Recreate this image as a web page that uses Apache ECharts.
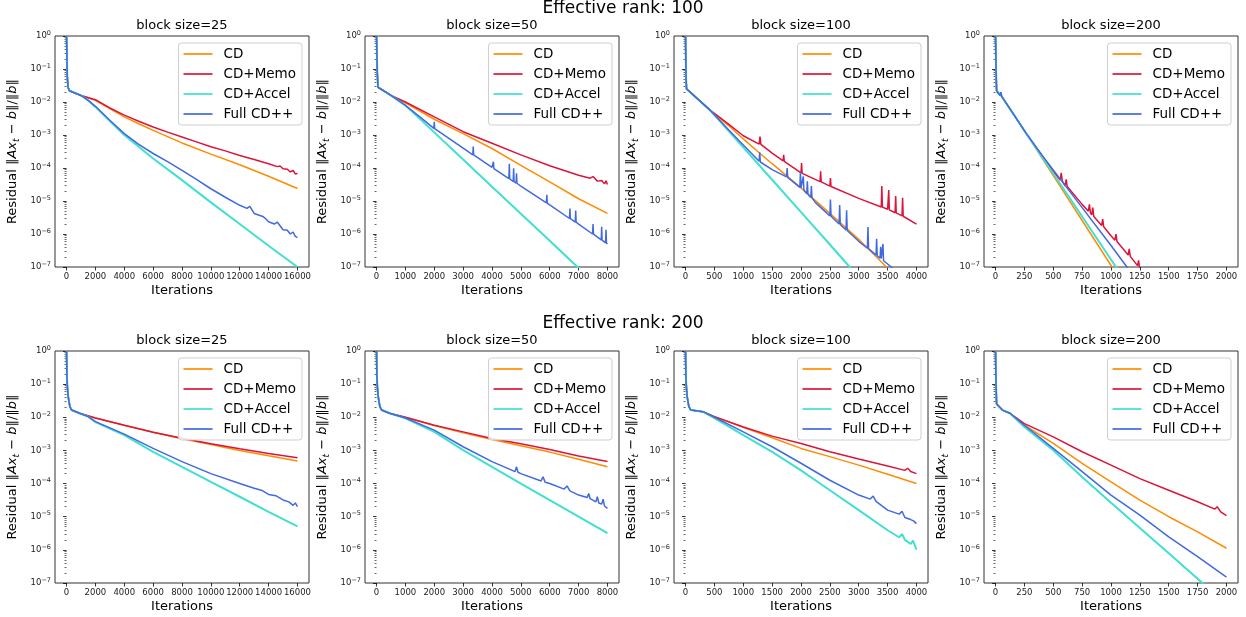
<!DOCTYPE html>
<html><head><meta charset="utf-8">
<script src="https://cdn.jsdelivr.net/npm/echarts@6/dist/echarts.min.js"></script>
<style>html,body{margin:0;padding:0;background:#fff}#c{width:1246px;height:617px}</style>
</head><body><div id="c"></div>
<script>
const seriesNames = ['CD', 'CD+Memo', 'CD+Accel', 'Full CD++'];
const seriesColors = ['#ff8c00', '#dc143c', '#40e0d0', '#4169e1'];
const rankTitles = ['Effective rank: 100', 'Effective rank: 200'];
const blockSizes = [25, 50, 100, 200];
const maxIter = [16000, 8000, 4000, 2000];
const xTicks = [
  [0, 2000, 4000, 6000, 8000, 10000, 12000, 14000, 16000],
  [0, 1000, 2000, 3000, 4000, 5000, 6000, 7000, 8000],
  [0, 500, 1000, 1500, 2000, 2500, 3000, 3500, 4000],
  [0, 250, 500, 750, 1000, 1250, 1500, 1750, 2000]
];

// ---------- Effective rank 100 ----------
const r100_b25_cd = [[0,1],[50,0.06],[100,0.028],[200,0.022],[1000,0.0158],[2000,0.0112],[3000,0.0063],[4000,0.00355],[5000,0.0022],[6000,0.00138],[8000,5.75e-4],[10000,2.63e-4],[12000,1.26e-4],[14000,5.6e-5],[16000,2.4e-5]];
const r100_b25_memo = [[0,1],[50,0.06],[100,0.028],[200,0.022],[1000,0.0158],[2000,0.0117],[3000,0.0066],[4000,0.004],[5000,0.0026],[6000,0.00174],[7000,0.00122],[8000,8.7e-4],[9000,6.2e-4],[10000,4.4e-4],[11000,3.3e-4],[12000,2.4e-4],[13000,1.8e-4],[14000,1.35e-4],[14600,1.1e-4],[14800,1.15e-4],[15000,9.5e-5],[15300,9.2e-5],[15500,7.6e-5],[15700,8.4e-5],[15850,6.6e-5],[16000,6.8e-5]];
const r100_b25_accel = [[0,1],[50,0.06],[100,0.028],[200,0.022],[1000,0.0158],[1500,0.0112],[2000,0.0071],[3000,0.00263],[4000,0.001],[6000,1.95e-4],[8000,4.3e-5],[10000,9.1e-6],[12000,2.0e-6],[14000,4.4e-7],[16000,1.0e-7]];
const r100_b25_full = [[0,1],[50,0.06],[100,0.028],[200,0.022],[1000,0.0158],[1500,0.0112],[2000,0.0074],[3000,0.0028],[4000,0.0011],[5000,5.2e-4],[6000,2.75e-4],[7000,1.55e-4],[8000,8.5e-5],[9000,4.5e-5],[10000,2.35e-5],[11000,1.3e-5],[12000,7.4e-6],[12500,6.0e-6],[12700,6.9e-6],[13000,4.2e-6],[13600,3.4e-6],[13800,2.9e-6],[14000,2.35e-6],[14400,2.0e-6],[14600,2.3e-6],[15000,1.35e-6],[15300,1.3e-6],[15500,1.0e-6],[15700,1.15e-6],[15850,8.5e-7],[16000,7.8e-7]];

const r100_b50_cd = [[0,1],[25,0.08],[50,0.028],[100,0.025],[500,0.0158],[1000,0.0095],[2000,0.003],[3000,0.0011],[4000,3.9e-4],[5000,1.2e-4],[6000,3.8e-5],[7000,1.17e-5],[8000,4.2e-6]];
const r100_b50_memo = [[0,1],[25,0.08],[50,0.028],[100,0.025],[500,0.0158],[1000,0.01],[2000,0.00355],[3000,0.00126],[4000,5.6e-4],[5000,2.5e-4],[6000,1.17e-4],[7000,6.0e-5],[7400,4.9e-5],[7500,5.5e-5],[7650,4.0e-5],[7800,4.2e-5],[7900,3.3e-5],[7950,4.1e-5],[8000,3.16e-5]];
const r100_b50_accel = [[0,1],[25,0.08],[50,0.028],[100,0.025],[500,0.0158],[1000,0.0079],[2000,0.0012],[3000,1.82e-4],[4000,2.7e-5],[5000,4.1e-6],[6000,6.2e-7],[7000,9.3e-8],[7200,6e-8]];
const r100_b50_full = [[0,1],[25,0.08],[50,0.028],[100,0.025],[500,0.0158],[1000,0.0079],[1500,0.00355],[1985,0.00158],[2000,0.0025],[2015,0.00156],[3000,3.98e-4],[3335,2.51e-4],[3350,4.47e-4],[3365,2.48e-4],[4000,1.05e-4],[4035,9.8e-5],[4050,1.55e-4],[4065,9.6e-5],[4585,4.8e-5],[4600,1.35e-4],[4615,4.7e-5],[4735,3.9e-5],[4750,9.8e-5],[4765,3.85e-5],[4835,3.5e-5],[4850,6.9e-5],[4865,3.45e-5],[5000,2.8e-5],[5885,8.7e-6],[5900,1.55e-5],[5915,8.6e-6],[6000,7.6e-6],[6685,2.95e-6],[6700,5.9e-6],[6715,2.9e-6],[6885,2.3e-6],[6900,5.1e-6],[6915,2.28e-6],[7000,2.0e-6],[7485,1.0e-6],[7500,2.0e-6],[7515,9.9e-7],[7785,6.6e-7],[7800,1.66e-6],[7815,6.5e-7],[7935,5.4e-7],[7950,1.35e-6],[7965,5.3e-7],[8000,5.0e-7]];

const r100_b100_cd = [[0,1],[8,0.06],[17,0.025],[420,0.00575],[750,0.0019],[1000,7.6e-4],[1285,2.8e-4],[1500,1.35e-4],[2000,2.5e-5],[2500,4.2e-6],[3000,6.9e-7],[3480,1e-7],[3600,6e-8]];
const r100_b100_memo = [[0,1],[8,0.06],[17,0.025],[420,0.00575],[750,0.0021],[1000,9.5e-4],[1275,5.3e-4],[1290,8.9e-4],[1305,5.2e-4],[1500,2.82e-4],[1690,1.65e-4],[1700,2.51e-4],[1710,1.6e-4],[2000,7.1e-5],[2010,1.41e-4],[2020,6.9e-5],[2330,3.85e-5],[2340,7.9e-5],[2350,3.8e-5],[2500,2.82e-5],[2510,5.0e-5],[2520,2.75e-5],[3000,1.2e-5],[3390,6.6e-6],[3400,2.82e-5],[3410,6.5e-6],[3500,5.6e-6],[3510,5.5e-6],[3520,2.14e-5],[3530,5.4e-6],[3630,4.4e-6],[3640,1.41e-5],[3650,4.35e-6],[3750,3.55e-6],[3760,1.26e-5],[3770,3.45e-6],[4000,2.0e-6]];
const r100_b100_accel = [[0,1],[8,0.06],[17,0.025],[420,0.00575],[1000,4.2e-4],[1500,4.4e-5],[2000,4.6e-6],[2500,4.8e-7],[2843,1e-7],[3000,5e-8]];
const r100_b100_full = [[0,1],[8,0.06],[17,0.025],[420,0.00575],[750,0.00141],[1000,5.0e-4],[1275,1.6e-4],[1285,3.0e-4],[1295,1.52e-4],[1500,8.9e-5],[1750,5.4e-5],[1760,1.0e-4],[1770,5.2e-5],[1980,2.6e-5],[1990,7.6e-5],[2000,2.5e-5],[2030,2.2e-5],[2040,5.6e-5],[2050,2.15e-5],[2100,1.66e-5],[2110,3.98e-5],[2120,1.6e-5],[2170,1.28e-5],[2180,2.82e-5],[2190,1.24e-5],[2250,8.9e-6],[2500,3.55e-6],[2510,1.1e-5],[2520,3.45e-6],[2660,2.0e-6],[2670,7.6e-6],[2680,1.95e-6],[2780,1.32e-6],[2790,5.2e-6],[2800,1.28e-6],[3000,6.0e-7],[3150,3.7e-7],[3160,1.62e-6],[3170,3.6e-7],[3300,2.3e-7],[3310,7.2e-7],[3320,2.2e-7],[3370,1.85e-7],[3380,4.1e-7],[3390,1.8e-7],[3410,1.6e-7],[3420,5.0e-7],[3430,1.55e-7],[3565,1e-7],[3700,5e-8]];

const r100_b200_cd = [[0,1],[5,0.08],[9,0.022],[40,0.0158],[46,0.02],[52,0.015],[267,0.0011],[500,5.9e-5],[750,2.57e-6],[1009,1e-7],[1100,3e-8]];
const r100_b200_memo = [[0,1],[5,0.08],[9,0.022],[40,0.0158],[46,0.02],[52,0.015],[267,0.0011],[400,2.5e-4],[500,7.9e-5],[560,4.3e-5],[569,7.1e-5],[578,4.0e-5],[603,2.9e-5],[612,4.5e-5],[621,2.75e-5],[750,7.9e-6],[804,4.9e-6],[813,7.9e-6],[822,4.4e-6],[833,3.8e-6],[842,6.3e-6],[851,3.4e-6],[919,1.8e-6],[928,2.82e-6],[937,1.65e-6],[1000,8.9e-7],[1034,6.5e-7],[1043,1e-6],[1052,5.9e-7],[1149,2.3e-7],[1158,3.55e-7],[1167,2.1e-7],[1230,1.1e-7],[1239,1.58e-7],[1250,8e-8],[1300,5e-8]];
const r100_b200_accel = [[0,1],[5,0.08],[9,0.022],[40,0.0158],[46,0.02],[52,0.015],[267,0.0011],[400,2.24e-4],[750,3.4e-6],[1043,1e-7],[1100,5e-8]];
const r100_b200_full = [[0,1],[5,0.08],[9,0.022],[40,0.0158],[46,0.02],[52,0.015],[267,0.0011],[400,2.5e-4],[750,6.3e-6],[1000,4.5e-7],[1138,1e-7],[1200,5e-8]];

// ---------- Effective rank 200 ----------
const r200_b25_cd = [[0,1],[25,0.17],[60,0.08],[115,0.042],[230,0.021],[350,0.0166],[900,0.0132],[2000,0.0095],[4000,0.00575],[6000,0.00355],[8000,0.00224],[10000,0.00151],[12000,0.001],[14000,6.9e-4],[16000,4.8e-4]];
const r200_b25_memo = [[0,1],[25,0.17],[60,0.08],[115,0.042],[230,0.021],[350,0.0166],[900,0.0132],[2000,0.0095],[4000,0.00575],[6000,0.00355],[8000,0.00234],[10000,0.00158],[12000,0.00112],[14000,8.1e-4],[16000,6.0e-4]];
const r200_b25_accel = [[0,1],[25,0.17],[60,0.08],[115,0.042],[230,0.021],[350,0.0166],[900,0.0132],[1500,0.0105],[2000,0.0072],[3000,0.00457],[4000,0.0029],[6000,9.1e-4],[8000,3.2e-4],[10000,1.12e-4],[12000,4.0e-5],[14000,1.41e-5],[16000,5.1e-6]];
const r200_b25_full = [[0,1],[25,0.17],[60,0.08],[115,0.042],[230,0.021],[350,0.0166],[900,0.0132],[1500,0.0105],[2000,0.0074],[3000,0.0048],[4000,0.0031],[6000,0.00115],[8000,4.6e-4],[10000,2.0e-4],[12000,1.0e-4],[13000,7.2e-5],[13500,6.3e-5],[14000,4.7e-5],[14500,4.3e-5],[15000,3.2e-5],[15400,2.8e-5],[15700,2.2e-5],[15850,2.6e-5],[16000,2.0e-5]];

const r200_b50_cd = [[0,1],[12,0.17],[30,0.08],[57,0.042],[115,0.021],[175,0.0166],[450,0.0132],[1000,0.01],[2000,0.00562],[3000,0.00339],[4000,0.00214],[5000,0.00138],[6000,8.9e-4],[7000,5.4e-4],[8000,3.2e-4]];
const r200_b50_memo = [[0,1],[12,0.17],[30,0.08],[57,0.042],[115,0.021],[175,0.0166],[450,0.0132],[1000,0.01],[2000,0.00575],[3000,0.00363],[4000,0.00229],[5000,0.00158],[6000,0.00107],[7000,6.8e-4],[8000,4.6e-4]];
const r200_b50_accel = [[0,1],[12,0.17],[30,0.08],[57,0.042],[115,0.021],[175,0.0166],[450,0.0132],[1000,0.0093],[2000,0.00363],[3000,0.00102],[4000,3.2e-4],[5000,1.0e-4],[6000,3.16e-5],[7000,1.0e-5],[8000,3.2e-6]];
const r200_b50_full = [[0,1],[12,0.17],[30,0.08],[57,0.042],[115,0.021],[175,0.0166],[450,0.0132],[1000,0.0095],[2000,0.0041],[3000,0.00129],[4000,4.6e-4],[4800,2.3e-4],[4850,3.2e-4],[4900,2.2e-4],[5000,2.0e-4],[5700,1.2e-4],[5770,1.6e-4],[5840,1.1e-4],[6000,1.0e-4],[6500,6.8e-5],[6600,8.5e-5],[6700,6.0e-5],[7000,4.5e-5],[7300,3.8e-5],[7350,5.0e-5],[7400,3.5e-5],[7600,2.8e-5],[7650,4.0e-5],[7700,2.6e-5],[7800,2.4e-5],[7850,3.4e-5],[7900,2.1e-5],[8000,1.78e-5]];

const r200_b100_cd = [[0,1],[6,0.17],[15,0.08],[28,0.042],[57,0.021],[90,0.0166],[300,0.0148],[500,0.0105],[1000,0.005],[1500,0.0024],[2000,0.00115],[2500,6.5e-4],[3000,3.6e-4],[3500,1.9e-4],[4000,1.0e-4]];
const r200_b100_memo = [[0,1],[6,0.17],[15,0.08],[28,0.042],[57,0.021],[90,0.0166],[300,0.0148],[500,0.0105],[1000,0.0051],[1500,0.0027],[2000,0.00162],[2500,9.1e-4],[3000,5.5e-4],[3500,3.4e-4],[3800,2.5e-4],[3850,2.9e-4],[3900,2.3e-4],[4000,2.0e-4]];
const r200_b100_accel = [[0,1],[6,0.17],[15,0.08],[28,0.042],[57,0.021],[90,0.0166],[300,0.0148],[500,0.0095],[1000,0.0029],[1500,9.1e-4],[2000,2.5e-4],[2500,6.3e-5],[3000,1.58e-5],[3500,3.9e-6],[3700,2.4e-6],[3750,3.0e-6],[3800,2.0e-6],[3900,1.5e-6],[3940,1.9e-6],[4000,1.02e-6]];
const r200_b100_full = [[0,1],[6,0.17],[15,0.08],[28,0.042],[57,0.021],[90,0.0166],[300,0.0148],[500,0.01],[1000,0.00363],[1500,0.00129],[2000,4.1e-4],[2500,1.26e-4],[3000,4.5e-5],[3200,3.4e-5],[3250,4.2e-5],[3300,2.9e-5],[3500,1.58e-5],[3700,1.2e-5],[3750,1.45e-5],[3800,9.5e-6],[3900,8.2e-6],[3950,7.5e-6],[4000,6.2e-6]];

const r200_b200_cd = [[0,1],[3,0.17],[6,0.06],[9,0.025],[60,0.0165],[125,0.0132],[250,0.00575],[500,0.00162],[750,4.1e-4],[1000,1.12e-4],[1250,3.16e-5],[1500,1.0e-5],[1750,3.47e-6],[2000,1.12e-6]];
const r200_b200_memo = [[0,1],[3,0.17],[6,0.06],[9,0.025],[60,0.0165],[125,0.0132],[250,0.00646],[500,0.00257],[750,9.1e-4],[1000,3.6e-4],[1250,1.41e-4],[1500,6.3e-5],[1750,2.82e-5],[1900,1.7e-5],[1920,2.0e-5],[1950,1.4e-5],[2000,1.07e-5]];
const r200_b200_accel = [[0,1],[3,0.17],[6,0.06],[9,0.025],[60,0.0165],[125,0.0132],[250,0.0051],[500,0.00102],[750,1.58e-4],[1000,2.63e-5],[1250,4.57e-6],[1500,7.9e-7],[1792,1e-7],[1850,6e-8]];
const r200_b200_full = [[0,1],[3,0.17],[6,0.06],[9,0.025],[60,0.0165],[125,0.0132],[250,0.00575],[500,0.00115],[750,2.29e-4],[1000,4.5e-5],[1250,1.12e-5],[1500,2.45e-6],[1750,6.2e-7],[2000,1.51e-7]];

const panelData = [
  [r100_b25_cd, r100_b25_memo, r100_b25_accel, r100_b25_full],
  [r100_b50_cd, r100_b50_memo, r100_b50_accel, r100_b50_full],
  [r100_b100_cd, r100_b100_memo, r100_b100_accel, r100_b100_full],
  [r100_b200_cd, r100_b200_memo, r100_b200_accel, r100_b200_full],
  [r200_b25_cd, r200_b25_memo, r200_b25_accel, r200_b25_full],
  [r200_b50_cd, r200_b50_memo, r200_b50_accel, r200_b50_full],
  [r200_b100_cd, r200_b100_memo, r200_b100_accel, r200_b100_full],
  [r200_b200_cd, r200_b200_memo, r200_b200_accel, r200_b200_full]
];

const FONT = 'DejaVu Sans';
const lefts = [55, 365, 674, 984];
const tops = [36, 351];
const W = 254;
const H = [231, 232];
const legendRight = [944, 634, 325, 15];
const legendTop = [43, 358];
const lineWidths = [1.5, 1.5, 2, 1.5];

const grids = [], xAxes = [], yAxes = [], series = [], legends = [], graphics = [];

for (let r = 0; r < 2; r++) {
  graphics.push({type: 'text', x: 623, y: r === 0 ? 9 : 324,
    style: {text: rankTitles[r], fontSize: 17, fontFamily: FONT, fill: '#000', align: 'center', verticalAlign: 'middle'}});
  for (let c = 0; c < 4; c++) {
    const idx = r * 4 + c;
    const N = maxIter[c];
    grids.push({left: lefts[c], top: tops[r], width: W, height: H[r], show: true,
      borderColor: '#333', borderWidth: 1, backgroundColor: 'transparent'});
    graphics.push({type: 'text', x: lefts[c] + W / 2, y: r === 0 ? 26 : 341,
      style: {text: 'block size=' + blockSizes[c], fontSize: 13, fontFamily: FONT, fill: '#000', align: 'center', verticalAlign: 'middle'}});
    xAxes.push({
      gridIndex: idx, type: 'value', min: -0.05 * N, max: 1.05 * N,
      axisLine: {show: false}, splitLine: {show: false},
      axisTick: {show: true, length: 3.5, inside: false, lineStyle: {color: '#000', width: 0.8}, customValues: xTicks[c]},
      axisLabel: {customValues: xTicks[c], fontSize: 8.5, color: '#222', margin: 5, fontFamily: FONT,
        hideOverlap: false, showMinLabel: true, showMaxLabel: true,
        formatter: function (v) { return String(Math.round(v)); }},
      name: 'Iterations', nameLocation: 'middle', nameGap: 17,
      nameTextStyle: {fontSize: 13, color: '#000', fontFamily: FONT}
    });
    yAxes.push({
      gridIndex: idx, type: 'log', logBase: 10, min: 1e-7, max: 1, interval: 1,
      axisLine: {show: false}, splitLine: {show: false},
      axisTick: {show: true, length: 3.5, lineStyle: {color: '#000', width: 0.8}},
      minorTick: {show: true, splitNumber: 9, length: 2, lineStyle: {color: '#000', width: 0.6}},
      axisLabel: {
        margin: 4, color: '#222', fontFamily: FONT,
        formatter: function (v) {
          const e = Math.round(Math.log10(v));
          return '{b|10}{s|' + (e === 0 ? '0' : '\u2212' + (-e)) + '}';
        },
        rich: {
          b: {fontSize: 8.5, lineHeight: 13, fontFamily: FONT, color: '#222'},
          s: {fontSize: 6.5, lineHeight: 7, verticalAlign: 'top', fontFamily: FONT, color: '#222'}
        }
      },
      name: 'Residual \u2016{i|Ax}{sub|t} \u2212 {i|b}\u2016/\u2016{i|b}\u2016',
      nameLocation: 'middle', nameRotate: 90, nameGap: 34,
      nameTextStyle: {
        fontSize: 13, color: '#000', fontFamily: FONT, lineHeight: 16,
        rich: {
          i: {fontSize: 13, fontStyle: 'italic', fontFamily: FONT, color: '#000', lineHeight: 16},
          sub: {fontSize: 9, fontStyle: 'italic', fontFamily: FONT, color: '#000', lineHeight: 9, verticalAlign: 'bottom'}
        }
      }
    });
    for (let s = 0; s < 4; s++) {
      series.push({
        type: 'line', name: seriesNames[s], xAxisIndex: idx, yAxisIndex: idx,
        data: panelData[idx][s], showSymbol: false, symbol: 'none', clip: true,
        color: seriesColors[s],
        lineStyle: {width: lineWidths[s], color: seriesColors[s]},
        itemStyle: {color: seriesColors[s]},
        emphasis: {disabled: true}, animation: false
      });
    }
    legends.push({
      data: seriesNames, orient: 'vertical', right: legendRight[c], top: legendTop[r],
      icon: 'rect', itemWidth: 29, itemHeight: 1.7, itemGap: 6, align: 'left',
      padding: [4, 6, 4, 5], borderColor: '#cfcfcf', borderWidth: 1, borderRadius: 3,
      backgroundColor: 'rgba(255,255,255,0.85)', selectedMode: false,
      textStyle: {fontSize: 13.5, color: '#000', fontFamily: FONT, lineHeight: 14, padding: [0, 0, 0, 6]}
    });
  }
}

const chart = echarts.init(document.getElementById('c'), null, {renderer: 'canvas'});
chart.setOption({
  backgroundColor: '#fff', animation: false,
  textStyle: {fontFamily: FONT},
  grid: grids, xAxis: xAxes, yAxis: yAxes, series: series, legend: legends, graphic: graphics
});
</script></body></html>
